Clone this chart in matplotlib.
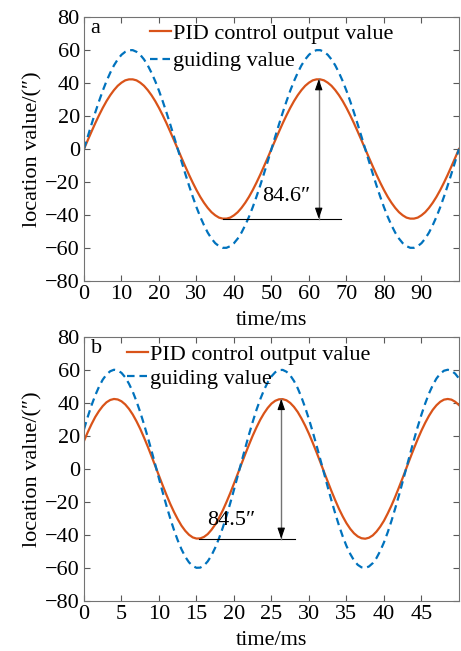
import numpy as np
import matplotlib
matplotlib.use('Agg')
import matplotlib.pyplot as plt
from matplotlib import rcParams

rcParams['font.family'] = ['Liberation Serif', 'DejaVu Serif']
rcParams['font.size'] = 16
rcParams['axes.unicode_minus'] = True

# (a) 0-100 ms, read every 1 ms
t_a = list(range(0, 101))
pid_a = [0, 5.3, 10.5, 15.6, 20.4, 24.9, 29.0, 32.6, 35.7, 38.3, 40.2, 41.6, 42.2,
         42.2, 41.6, 40.2, 38.3, 35.7, 32.6, 29.0, 24.9, 20.4, 15.6, 10.5, 5.3,
         0, -5.3, -10.5, -15.6, -20.4, -24.9, -29.0, -32.6, -35.7, -38.3, -40.2, -41.6, -42.2,
         -42.2, -41.6, -40.2, -38.3, -35.7, -32.6, -29.0, -24.9, -20.4, -15.6, -10.5, -5.3,
         0, 5.3, 10.5, 15.6, 20.4, 24.9, 29.0, 32.6, 35.7, 38.3, 40.2, 41.6, 42.2,
         42.2, 41.6, 40.2, 38.3, 35.7, 32.6, 29.0, 24.9, 20.4, 15.6, 10.5, 5.3,
         0, -5.3, -10.5, -15.6, -20.4, -24.9, -29.0, -32.6, -35.7, -38.3, -40.2, -41.6, -42.2,
         -42.2, -41.6, -40.2, -38.3, -35.7, -32.6, -29.0, -24.9, -20.4, -15.6, -10.5, -5.3, 0]
guide_a = [0, 7.5, 14.9, 22.1, 28.9, 35.3, 41.1, 46.2, 50.7, 54.3, 57.1, 58.9, 59.9,
           59.9, 58.9, 57.1, 54.3, 50.7, 46.2, 41.1, 35.3, 28.9, 22.1, 14.9, 7.5,
           0, -7.5, -14.9, -22.1, -28.9, -35.3, -41.1, -46.2, -50.7, -54.3, -57.1, -58.9, -59.9,
           -59.9, -58.9, -57.1, -54.3, -50.7, -46.2, -41.1, -35.3, -28.9, -22.1, -14.9, -7.5,
           0, 7.5, 14.9, 22.1, 28.9, 35.3, 41.1, 46.2, 50.7, 54.3, 57.1, 58.9, 59.9,
           59.9, 58.9, 57.1, 54.3, 50.7, 46.2, 41.1, 35.3, 28.9, 22.1, 14.9, 7.5,
           0, -7.5, -14.9, -22.1, -28.9, -35.3, -41.1, -46.2, -50.7, -54.3, -57.1, -58.9, -59.9,
           -59.9, -58.9, -57.1, -54.3, -50.7, -46.2, -41.1, -35.3, -28.9, -22.1, -14.9, -7.5, 0]

# (b) 0-50 ms, read every 0.5 ms
t_b = [i * 0.5 for i in range(101)]
pid_b = [16.9, 22.2, 27.0, 31.4, 35.0, 38.0, 40.3, 41.7, 42.3, 42.0,
         40.9, 39.0, 36.3, 32.9, 28.8, 24.2, 19.0, 13.5, 7.7, 1.8,
         -4.2, -10.1, -15.8, -21.2, -26.1, -30.5, -34.4, -37.5, -39.9, -41.5,
         -42.2, -42.1, -41.2, -39.5, -36.9, -33.7, -29.7, -25.2, -20.1, -14.7,
         -8.9, -3.0, 3.0, 8.9, 14.6, 20.1, 25.1, 29.7, 33.6, 36.9,
         39.5, 41.2, 42.1, 42.2, 41.5, 39.9, 37.5, 34.4, 30.5, 26.1,
         21.2, 15.8, 10.1, 4.2, -1.8, -7.7, -13.5, -19.0, -24.2, -28.8,
         -32.9, -36.3, -39.0, -40.9, -42.0, -42.3, -41.7, -40.3, -38.0, -35.0,
         -31.4, -27.0, -22.2, -16.9, -11.2, -5.4, 0.6, 6.6, 12.4, 18.0,
         23.2, 27.9, 32.1, 35.7, 38.5, 40.6, 41.9, 42.3, 41.9, 40.6, 38.6]
guide_b = [23.9, 31.5, 38.4, 44.5, 49.7, 54.0, 57.1, 59.1, 60.0, 59.6,
           58.1, 55.4, 51.5, 46.7, 40.9, 34.3, 27.0, 19.2, 11.0, 2.6,
           -5.9, -14.3, -22.4, -30.0, -37.0, -43.3, -48.7, -53.2, -56.6, -58.8,
           -59.9, -59.8, -58.5, -56.0, -52.4, -47.7, -42.1, -35.7, -28.5, -20.8,
           -12.6, -4.2, 4.2, 12.6, 20.8, 28.5, 35.7, 42.1, 47.7, 52.4,
           56.0, 58.5, 59.8, 59.9, 58.8, 56.6, 53.2, 48.8, 43.3, 37.0,
           30.0, 22.4, 14.3, 5.9, -2.5, -11.0, -19.2, -27.0, -34.3, -40.9,
           -46.7, -51.5, -55.4, -58.1, -59.6, -60.0, -59.1, -57.1, -54.0, -49.7,
           -44.5, -38.4, -31.5, -23.9, -16.0, -7.6, 0.8, 9.3, 17.6, 25.5,
           32.9, 39.6, 45.6, 50.6, 54.7, 57.6, 59.4, 60.0, 59.4, 57.6, 54.7]

# peak-to-peak annotations: (line start x, line end x, arrow x, high, low, label, text x, text y)
ann_a = (37.0, 68.6, 62.6, 42.3, -42.3, '84.6″', 60.3, -28.5)
ann_b = (15.3, 28.1, 26.3, 42.3, -42.3, '84.5″', 22.8, -31.0)

red = '#D95319'
blue = '#0072BD'

fig = plt.figure(figsize=(4.61, 6.51), dpi=100)
ax1 = fig.add_axes([0.1822, 0.5684, 0.8134, 0.4055])
ax2 = fig.add_axes([0.1822, 0.0768, 0.8134, 0.4060])


def draw(ax, t, pid, guide, xmax, xticks, ann, letter, leg_x, leg_y, leg_sp):
    ax.plot(t, pid, color=red, lw=1.6, label='PID control output value')
    ax.plot(t, guide, color=blue, lw=1.6, ls=(0, (3.4, 2.2)), label='guiding value')
    ax.set_xlim(0, xmax)
    ax.set_ylim(-80, 80)
    ax.set_xticks(xticks)
    ax.set_yticks(range(-80, 81, 20))
    ax.tick_params(direction='in', top=True, right=True, length=4, width=0.8,
                   color='0.35', pad=3)
    for s in ax.spines.values():
        s.set_color('0.45')
        s.set_linewidth(0.8)
    ax.set_xlabel('time/ms', labelpad=5)
    ax.set_ylabel('location value/(″)', labelpad=2)
    ax.text(0.018, 0.955, letter, transform=ax.transAxes, ha='left', va='center')
    ax.legend(loc='upper left', bbox_to_anchor=(leg_x, leg_y), frameon=False,
              borderpad=0, borderaxespad=0, handlelength=0.95, handletextpad=0.1,
              labelspacing=leg_sp)
    x0, x1, xa, hi, lo, lab, tx, ty = ann
    ax.plot([x0, x1], [lo, lo], color='k', lw=0.8)
    ax.plot([xa, xa], [lo, hi], color='0.45', lw=1.0)
    head = dict(arrowstyle='-|>,head_length=0.4,head_width=0.14', color='k', lw=0.8,
                shrinkA=0, shrinkB=0)
    ax.annotate('', xy=(xa, hi), xytext=(xa, hi - 5), arrowprops=head)
    ax.annotate('', xy=(xa, lo), xytext=(xa, lo + 5), arrowprops=head)
    ax.text(tx, ty, lab, ha='right', va='center')


draw(ax1, t_a, pid_a, guide_a, 100, range(0, 91, 10), ann_a, 'a', 0.176, 0.975, 0.3)
draw(ax2, t_b, pid_b, guide_b, 50, range(0, 46, 5), ann_b, 'b', 0.115, 0.972, 0.15)

fig.savefig('out.png', dpi=100)
